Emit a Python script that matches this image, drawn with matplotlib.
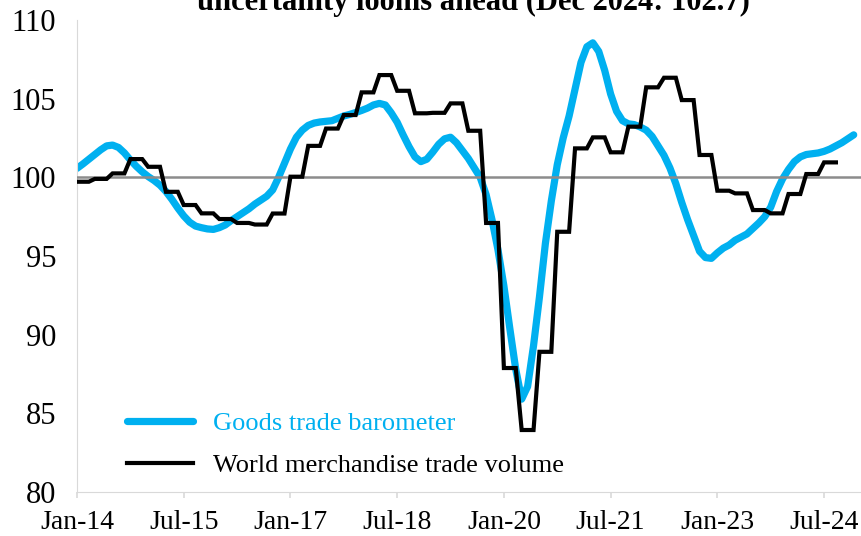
import numpy as np
import matplotlib
matplotlib.use("Agg")
import matplotlib.pyplot as plt

plt.rcParams['font.family'] = ['Liberation Serif', 'DejaVu Serif']

# Monthly x-axis, Jan-2014 .. Dec-2024
tick_labels = ["Jan-14", "Jul-15", "Jan-17", "Jul-18", "Jan-20", "Jul-21", "Jan-23", "Jul-24"]
tick_months = [0, 18, 36, 54, 72, 90, 108, 126]

# Goods trade barometer (monthly, Jan-2014 .. Dec-2024)
barometer = [
    100.57, 100.85, 101.15, 101.45, 101.75, 102.00, 102.05, 101.90, 101.55, 101.10, 100.70, 100.35,  # 2014
    100.05, 99.80, 99.50, 99.10, 98.60, 98.05, 97.55, 97.15, 96.90, 96.80, 96.72, 96.69,          # 2015
    96.80, 96.97, 97.25, 97.50, 97.75, 98.00, 98.30, 98.55, 98.80, 99.20, 100.00, 100.90,         # 2016
    101.80, 102.55, 103.00, 103.30, 103.45, 103.52, 103.56, 103.60, 103.75, 103.90, 104.00, 104.12,  # 2017
    104.25, 104.40, 104.60, 104.70, 104.60, 104.10, 103.50, 102.70, 101.95, 101.30, 101.00, 101.15,  # 2018
    101.60, 102.10, 102.45, 102.55, 102.20, 101.70, 101.20, 100.60, 100.00, 98.90, 97.30, 95.40,   # 2019
    93.10, 90.40, 87.80, 85.90, 86.70, 89.30, 92.40, 95.80, 98.50, 100.80, 102.50, 103.90,        # 2020
    105.60, 107.30, 108.30, 108.55, 108.00, 106.80, 105.30, 104.20, 103.60, 103.40, 103.35, 103.20,  # 2021
    103.00, 102.60, 102.00, 101.40, 100.60, 99.60, 98.40, 97.30, 96.30, 95.30, 94.90, 94.85,      # 2022
    95.20, 95.50, 95.70, 96.00, 96.20, 96.40, 96.75, 97.10, 97.50, 98.10, 99.10, 99.90,           # 2023
    100.50, 101.00, 101.30, 101.45, 101.50, 101.55, 101.65, 101.80, 102.00, 102.20, 102.45, 102.70,  # 2024
]

# World merchandise trade volume (quarterly, 2014Q1 .. 2024Q3)
trade_volume_q = [
    99.72, 99.90, 100.25, 101.16,
    100.67, 99.08, 98.24, 97.71,
    97.35, 97.10, 97.00, 97.70,
    100.04, 102.00, 103.10, 103.96,
    105.40, 106.50, 105.50, 104.07,
    104.10, 104.70, 102.96, 97.10,
    87.88, 83.94, 88.91, 96.54,
    101.84, 102.54, 101.59, 103.22,
    105.72, 106.33, 104.91, 101.42,
    99.15, 98.98, 97.92, 97.71,
    98.94, 100.21, 100.95,
]

reference_level = 100

label_barometer = "Goods trade barometer"
label_volume = "World merchandise trade volume"
title_text = "uncertainty looms ahead (Dec 2024: 102.7)"

BLUE = "#00B0F0"

fig = plt.figure(figsize=(8.62, 5.36), dpi=100)
ax = fig.add_axes([77 / 862, 44 / 536, 785 / 862, 472 / 536])

months_b = np.arange(len(barometer))
vol_monthly = np.repeat(trade_volume_q, 3)
months_v = np.arange(len(vol_monthly))

ax.plot(months_b, barometer, color=BLUE, lw=5.2, solid_capstyle='round',
        label=label_barometer, zorder=2)
ax.axhline(reference_level, color="#8C8C8C", lw=1.8, zorder=3)
ax.plot(months_v, vol_monthly, color="black", lw=3.0, solid_joinstyle='miter',
        label=label_volume, zorder=4)

ax.set_xlim(0, 132.4)
ax.set_ylim(80, 110)
ax.set_yticks(np.arange(80, 111, 5))
ax.set_xticks(tick_months)
ax.set_xticklabels(tick_labels)

for s in ["top", "right"]:
    ax.spines[s].set_visible(False)
for s in ["left", "bottom"]:
    ax.spines[s].set_color("#D9D9D9")
    ax.spines[s].set_linewidth(0.8)

ax.tick_params(axis='y', length=0, pad=15, labelsize=22)
ax.tick_params(axis='x', length=4, color="#D9D9D9", width=1.2, pad=9, labelsize=20)

leg = ax.legend(loc='upper left', bbox_to_anchor=(127 / 862, 1 - 412 / 536),
                bbox_transform=fig.transFigure, frameon=False, fontsize=19,
                handlelength=2.5, handletextpad=0.75, labelspacing=0.68,
                borderpad=0, borderaxespad=0)
leg.get_texts()[0].set_color(BLUE)
leg.get_texts()[1].set_color("black")

fig.text(473 / 862, 1 - 10 / 536, title_text, ha='center', va='baseline',
         fontsize=22, fontweight='bold')

fig.savefig("out.png", dpi=100)
